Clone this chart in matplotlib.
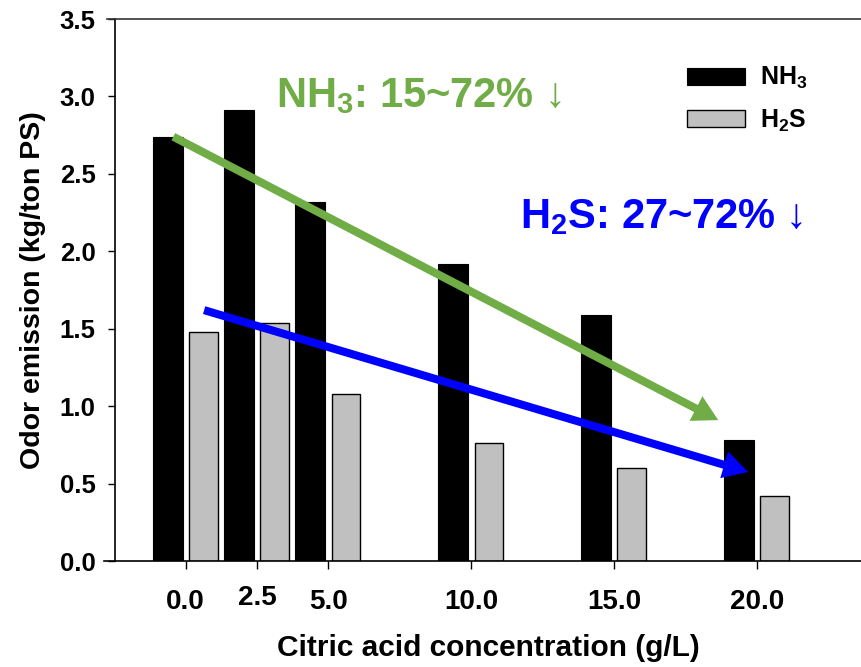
import matplotlib.pyplot as plt
import numpy as np
from matplotlib.transforms import ScaledTranslation

plt.rcParams['font.family'] = ['Liberation Sans', 'DejaVu Sans']
plt.rcParams['font.weight'] = 'bold'
plt.rcParams['mathtext.fontset'] = 'custom'
plt.rcParams['mathtext.rm'] = 'Liberation Sans:bold'
plt.rcParams['mathtext.bf'] = 'Liberation Sans:bold'
plt.rcParams['mathtext.default'] = 'bf'

# data
conc = np.array([0.0, 2.5, 5.0, 10.0, 15.0, 20.0])
conc_labels = ['0.0', '2.5', '5.0', '10.0', '15.0', '20.0']
nh3 = np.array([2.74, 2.91, 2.32, 1.92, 1.59, 0.78])
h2s = np.array([1.48, 1.54, 1.08, 0.76, 0.60, 0.42])

fig = plt.figure(figsize=(8.61, 6.67), dpi=100)
ax = fig.add_axes([0.1336, 0.1589, 0.8664, 0.8126])

ax.bar(conc - 0.63, nh3, width=1.05, color='black', edgecolor='black', linewidth=0.8, label='NH$_3$')
ax.bar(conc + 0.62, h2s, width=1.0, color='#c0c0c0', edgecolor='black', linewidth=1.0, label='H$_2$S')

ax.set_xlim(-2.47, 23.65)
ax.set_ylim(0, 3.5)
ax.set_yticks(np.arange(0, 3.51, 0.5))
ax.set_yticklabels([f'{v:.1f}' for v in np.arange(0, 3.51, 0.5)])
ax.set_xticks(conc)
ax.set_xticklabels(conc_labels)
ax.tick_params(axis='x', direction='out', length=6, width=1, pad=14, labelsize=20)
ax.tick_params(axis='y', direction='out', length=5, width=1, pad=9, labelsize=18.5)
# the 2.5 label sits a bit higher in the original
lbl = ax.get_xticklabels()[1]
lbl.set_transform(lbl.get_transform() + ScaledTranslation(0, 4 / 100, fig.dpi_scale_trans))

ax.spines['right'].set_visible(False)
for s in ['top', 'bottom', 'left']:
    ax.spines[s].set_linewidth(1.2)
ax.spines['bottom'].set_bounds(-2.85, 30)
ax.spines['top'].set_bounds(-2.75, 30)
ax.spines['top'].set_color('#333333')

ax.set_xlabel('Citric acid concentration (g/L)', fontsize=21.5, fontweight='bold', labelpad=14)
ax.set_ylabel('Odor emission (kg/ton PS)', fontsize=20.5, fontweight='bold', labelpad=10)

leg = ax.legend(loc='upper left', bbox_to_anchor=(687 / 861, 1 - 65 / 667), bbox_transform=fig.transFigure,
                frameon=False, fontsize=18, borderpad=0, borderaxespad=0,
                handlelength=2.32, handleheight=0.68, handletextpad=0.6, labelspacing=0.65)

# trend arrows
arrow_style = 'simple,head_length=0.9,head_width=1.0,tail_width=0.29'
ax.annotate('', xy=(18.65, 0.91), xytext=(-0.43, 2.74),
            arrowprops=dict(arrowstyle=arrow_style, mutation_scale=20, lw=0,
                            color='#70ad47', shrinkA=0, shrinkB=0))
ax.annotate('', xy=(19.7, 0.575), xytext=(0.65, 1.62),
            arrowprops=dict(arrowstyle=arrow_style, mutation_scale=20, lw=0,
                            color='#0000ff', shrinkA=0, shrinkB=0))

ax.text(3.15, 3.0, 'NH$_3$: 15~72% ↓', color='#70ad47', fontsize=30, fontweight='bold', va='center')
ax.text(11.7, 2.22, 'H$_2$S: 27~72% ↓', color='#0000ff', fontsize=30, fontweight='bold', va='center')

fig.savefig('out.png', dpi=100)
